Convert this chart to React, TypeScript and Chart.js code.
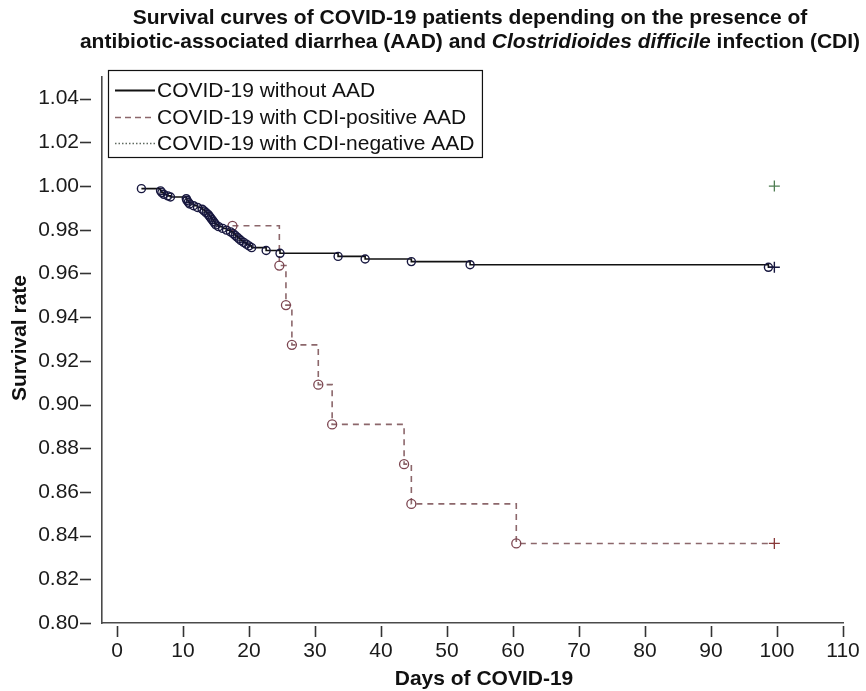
import React, { useEffect, useRef } from "react";
import { Chart, registerables } from "chart.js";

Chart.register(...registerables);

// ---------- data ----------
const noAadDays = [3.7, 6.6, 6.8, 7.1, 7.7, 8.1, 10.5, 10.6, 10.8, 11.0, 11.6, 12.2, 12.9, 13.2, 13.5, 13.8, 14.0, 14.2, 14.4, 14.6, 14.8, 15.0, 15.4, 16.0, 16.6, 17.2, 17.6, 17.9, 18.2, 18.5, 18.8, 19.2, 19.6, 20.0, 20.4, 22.6, 24.7, 33.5, 37.6, 44.6, 53.5, 98.7];
const noAadSurvival = [0.9988, 0.9978, 0.997, 0.9962, 0.9955, 0.995, 0.9942, 0.9934, 0.9926, 0.9918, 0.991, 0.9902, 0.9894, 0.9886, 0.9878, 0.987, 0.9862, 0.9854, 0.9846, 0.9838, 0.983, 0.9822, 0.9814, 0.9806, 0.9798, 0.979, 0.9782, 0.9774, 0.9766, 0.9758, 0.975, 0.9742, 0.9734, 0.9726, 0.9718, 0.9705, 0.9692, 0.9678, 0.9666, 0.9654, 0.964, 0.9628];
const noAadCensorDay = 99.6;

const cdiPosDays = [17.5, 24.6, 25.6, 26.5, 30.5, 32.6, 43.5, 44.6, 60.5];
const cdiPosSurvival = [0.9818, 0.9636, 0.9455, 0.9273, 0.9091, 0.8909, 0.8727, 0.8545, 0.8364];
const cdiPosCensorDay = 99.6;

const cdiNegCensorDay = 99.6;
const cdiNegSurvival = 1.0;

const xTicks = [0, 10, 20, 30, 40, 50, 60, 70, 80, 90, 100, 110];
const yTicks = [0.8, 0.82, 0.84, 0.86, 0.88, 0.9, 0.92, 0.94, 0.96, 0.98, 1.0, 1.02, 1.04];

const seriesLabels = [
  "COVID-19 without AAD",
  "COVID-19 with CDI-positive AAD",
  "COVID-19 with CDI-negative AAD",
];
const titleLine1 = "Survival curves of COVID-19 patients depending on the presence of";
const titleLine2 = [
  { text: "antibiotic-associated diarrhea (AAD) and ", italic: false },
  { text: "Clostridioides difficile", italic: true },
  { text: " infection (CDI)", italic: false },
];
const xTitle = "Days of COVID-19";
const yTitle = "Survival rate";

// ---------- styles ----------
const FONT = "'Liberation Sans', Arial, Helvetica, sans-serif";
const BLACK_LINE = "#111111";
const BLACK_PT = "#17173f";
const BROWN_LINE = "#8c676b";
const BROWN_PT = "#7c4550";
const GREEN_PT = "#4f7d52";
const DOT_LINE = "#5f6a60";

function buildSeries(days: number[], surv: number[], censorDay: number) {
  const pts = days.map((d, i) => ({ x: d, y: surv[i] }));
  pts.push({ x: censorDay, y: surv[surv.length - 1] });
  return pts;
}

const decorPlugin = {
  id: "decor",
  afterDraw(chart: any) {
    const ctx: CanvasRenderingContext2D = chart.ctx;
    const xs = chart.scales.x;
    const ys = chart.scales.y;
    const area = chart.chartArea;
    ctx.save();

    // tick marks (offset from axis lines)
    ctx.strokeStyle = "#333333";
    ctx.lineWidth = 1.6;
    yTicks.forEach((v) => {
      const y = Math.round(ys.getPixelForValue(v)) + 0.5;
      ctx.beginPath();
      ctx.moveTo(area.left - 22, y);
      ctx.lineTo(area.left - 11, y);
      ctx.stroke();
    });
    xTicks.forEach((v) => {
      const x = Math.round(xs.getPixelForValue(v)) + 0.5;
      ctx.beginPath();
      ctx.moveTo(x, area.bottom + 3);
      ctx.lineTo(x, area.bottom + 14);
      ctx.stroke();
    });

    // title
    const cx = 470;
    ctx.fillStyle = "#111111";
    ctx.textBaseline = "middle";
    ctx.textAlign = "left";
    ctx.font = `bold 21px ${FONT}`;
    const w1 = ctx.measureText(titleLine1).width;
    ctx.fillText(titleLine1, cx - w1 / 2, 18);
    const widths = titleLine2.map((p) => {
      ctx.font = `${p.italic ? "italic " : ""}bold 21px ${FONT}`;
      return ctx.measureText(p.text).width;
    });
    const total = widths.reduce((a, b) => a + b, 0);
    let tx = cx - total / 2;
    titleLine2.forEach((p, i) => {
      ctx.font = `${p.italic ? "italic " : ""}bold 21px ${FONT}`;
      ctx.fillText(p.text, tx, 42);
      tx += widths[i];
    });

    // axis titles
    ctx.font = `bold 21px ${FONT}`;
    ctx.textAlign = "center";
    ctx.fillText(xTitle, 484, 679);
    ctx.save();
    ctx.translate(20, 338);
    ctx.rotate(-Math.PI / 2);
    ctx.fillText(yTitle, 0, 0);
    ctx.restore();

    // legend
    ctx.font = `21px ${FONT}`;
    ctx.textAlign = "left";
    const textX = 157;
    const maxW = Math.max(...seriesLabels.map((s) => ctx.measureText(s).width));
    const boxL = 108.5, boxT = 70.5;
    const boxR = textX + maxW + 8;
    const rows = [90, 117, 143];
    const boxB = 157.5;
    ctx.fillStyle = "#ffffff";
    ctx.fillRect(boxL, boxT, boxR - boxL, boxB - boxT);
    ctx.strokeStyle = "#111111";
    ctx.lineWidth = 1.2;
    ctx.strokeRect(boxL, boxT, boxR - boxL, boxB - boxT);
    const samples = [
      { color: BLACK_LINE, dash: [] as number[], w: 1.8 },
      { color: BROWN_LINE, dash: [6, 4], w: 1.5 },
      { color: DOT_LINE, dash: [1.5, 2], w: 1.3 },
    ];
    rows.forEach((ry, i) => {
      ctx.strokeStyle = samples[i].color;
      ctx.lineWidth = samples[i].w;
      ctx.setLineDash(samples[i].dash);
      ctx.beginPath();
      ctx.moveTo(115, ry + 0.5);
      ctx.lineTo(155, ry + 0.5);
      ctx.stroke();
      ctx.setLineDash([]);
      ctx.fillStyle = "#111111";
      ctx.fillText(seriesLabels[i], textX, ry + 1);
    });
    ctx.restore();
  },
};

export default function App() {
  const ref = useRef<HTMLCanvasElement | null>(null);

  useEffect(() => {
    if (!ref.current) return;
    const noAad = buildSeries(noAadDays, noAadSurvival, noAadCensorDay);
    const cdiPos = buildSeries(cdiPosDays, cdiPosSurvival, cdiPosCensorDay);
    const styleArr = (n: number, a: any, b: any) => Array.from({ length: n }, (_, i) => (i === n - 1 ? b : a));

    const chart = new Chart(ref.current, {
      type: "line",
      data: {
        datasets: [
          {
            label: seriesLabels[0],
            data: noAad,
            stepped: true,
            borderColor: BLACK_LINE,
            borderWidth: 1.6,
            fill: false,
            pointStyle: styleArr(noAad.length, "circle", "cross"),
            pointRadius: styleArr(noAad.length, 4, 5.5),
            pointBorderColor: styleArr(noAad.length, BLACK_PT, BLACK_PT),
            pointBackgroundColor: "rgba(0,0,0,0)",
            pointBorderWidth: 1.4,
          },
          {
            label: seriesLabels[1],
            data: cdiPos,
            stepped: true,
            borderColor: BROWN_LINE,
            borderDash: [6, 5],
            borderWidth: 1.6,
            fill: false,
            pointStyle: styleArr(cdiPos.length, "circle", "cross"),
            pointRadius: styleArr(cdiPos.length, 4.5, 5.5),
            pointBorderColor: styleArr(cdiPos.length, BROWN_PT, "#8a3a3a"),
            pointBackgroundColor: "rgba(0,0,0,0)",
            pointBorderWidth: 1.3,
          },
          {
            label: seriesLabels[2],
            data: [{ x: cdiNegCensorDay, y: cdiNegSurvival }],
            showLine: false,
            borderColor: DOT_LINE,
            pointStyle: "cross",
            pointRadius: 5.5,
            pointBorderColor: GREEN_PT,
            pointBorderWidth: 1.3,
          },
        ],
      },
      options: {
        animation: false,
        responsive: false,
        maintainAspectRatio: false,
        layout: { padding: { top: 77, right: 23, bottom: 0, left: 0 } },
        plugins: {
          legend: { display: false },
          title: { display: false },
          tooltip: { enabled: false },
        },
        scales: {
          x: {
            type: "linear",
            min: -2.27,
            max: 110,
            grid: { display: false, drawTicks: false },
            border: { display: true, color: "#4a4a4a", width: 1.6 },
            ticks: {
              padding: 16,
              color: "#1a1a1a",
              font: { family: FONT, size: 21 },
              maxRotation: 0,
              autoSkip: false,
              callback: (v: any) => String(v),
            },
            afterBuildTicks: (scale: any) => {
              scale.ticks = xTicks.map((v) => ({ value: v }));
            },
            afterFit: (scale: any) => {
              scale.height = 68;
              scale.paddingLeft = 0;
              scale.paddingRight = 0;
            },
          },
          y: {
            type: "linear",
            min: 0.8,
            max: 1.0499,
            grid: { display: false, drawTicks: false },
            border: { display: true, color: "#4a4a4a", width: 1.6 },
            ticks: {
              padding: 23,
              color: "#1a1a1a",
              font: { family: FONT, size: 21 },
              autoSkip: false,
              callback: (v: any) => Number(v).toFixed(2),
            },
            afterBuildTicks: (scale: any) => {
              scale.ticks = yTicks.map((v) => ({ value: v }));
            },
            afterFit: (scale: any) => {
              scale.width = 102;
              scale.paddingTop = 0;
              scale.paddingBottom = 0;
            },
          },
        },
      },
      plugins: [decorPlugin],
    } as any);
    return () => chart.destroy();
  }, []);

  return (
    <div style={{ position: "fixed", left: 0, top: 0, width: 866, height: 691, background: "#ffffff" }}>
      <canvas ref={ref} width={866} height={691} style={{ width: 866, height: 691, display: "block" }} />
    </div>
  );
}
